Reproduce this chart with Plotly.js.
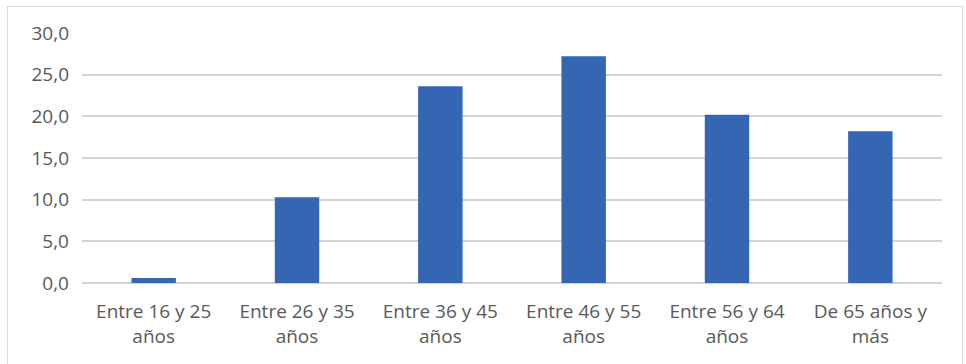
<!DOCTYPE html>
<html>
<head>
<meta charset="utf-8">
<script src="https://cdn.plot.ly/plotly-3.0.1.min.js"></script>
<style>
html,body{margin:0;padding:0;background:#fff;}
#wrap{position:relative;width:966px;height:364px;}
#frame{position:absolute;left:7px;top:6px;width:956px;height:370px;border:1.5px solid #dcd6d5;border-bottom:none;box-sizing:border-box;}
#chart{position:absolute;left:0;top:0;width:966px;height:364px;}
</style>
</head>
<body>
<div id="wrap"><div id="frame"></div><div id="chart"></div></div>
<script>
const categories = ["Entre 16 y 25<br>años", "Entre 26 y 35<br>años", "Entre 36 y 45<br>años", "Entre 46 y 55<br>años", "Entre 56 y 64<br>años", "De 65 años y<br>más"];
const values = [0.6, 10.3, 23.6, 27.2, 20.2, 18.2];

const trace = {
  type: "bar",
  x: categories,
  y: values,
  marker: {color: "#3566b4"},
  width: 0.31,
  hoverinfo: "x+y"
};

const layout = {
  width: 966,
  height: 364,
  margin: {l: 82, r: 24, t: 33, b: 81},
  paper_bgcolor: "rgba(0,0,0,0)",
  plot_bgcolor: "rgba(0,0,0,0)",
  separators: ",.",
  showlegend: false,
  font: {family: "Open Sans, sans-serif", size: 19, color: "#595959"},
  xaxis: {
    type: "category",
    showgrid: false,
    showline: false,
    ticks: "",
    ticklabelstandoff: 15,
    tickfont: {size: 19, color: "#595959"}
  },
  yaxis: {
    range: [0, 30],
    dtick: 5,
    tick0: 0,
    tickformat: ".1f",
    showgrid: true,
    gridcolor: "#dad2ce",
    gridwidth: 2,
    zeroline: true,
    zerolinecolor: "#dad2ce",
    zerolinewidth: 2,
    showline: false,
    ticks: "",
    ticklabelstandoff: 12,
    tickfont: {size: 19, color: "#595959"}
  }
};

Plotly.newPlot("chart", [trace], layout, {displayModeBar: false, staticPlot: true});
</script>
</body>
</html>
